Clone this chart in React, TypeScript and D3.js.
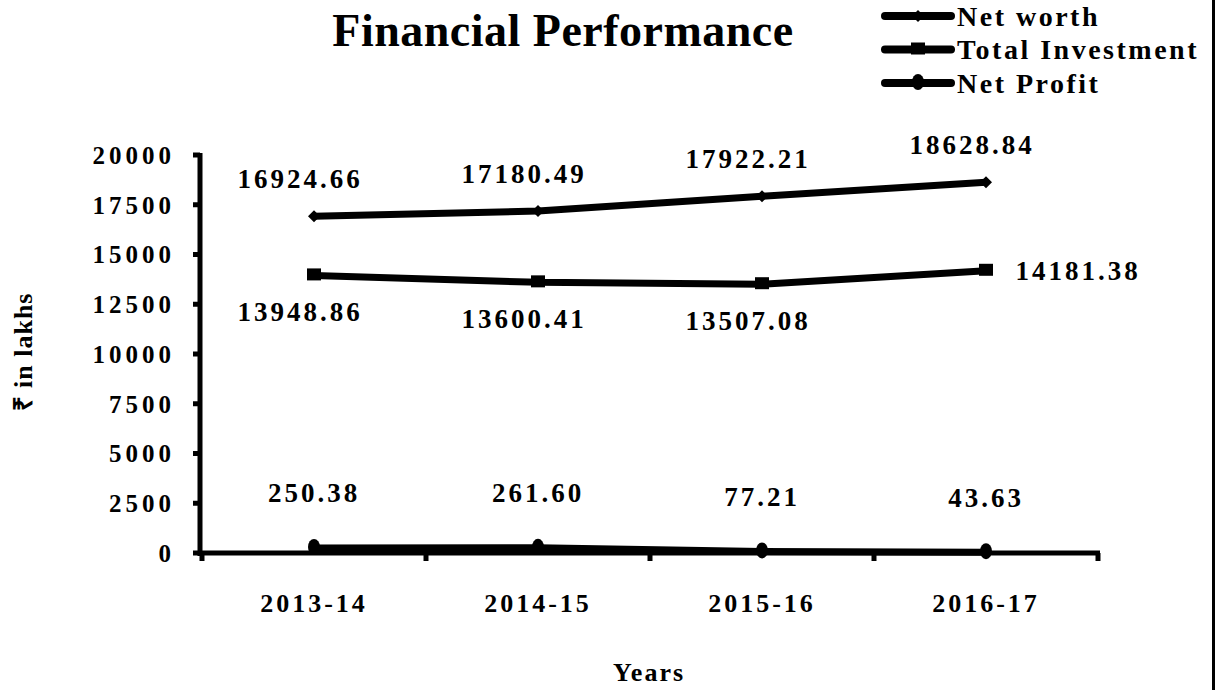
import * as d3 from 'd3';

const years = ['2013-14', '2014-15', '2015-16', '2016-17'];
const netWorth = [16924.66, 17180.49, 17922.21, 18628.84];
const totalInvestment = [13948.86, 13600.41, 13507.08, 14181.38];
const netProfit = [250.38, 261.6, 77.21, 43.63];
const yTicks = [0, 2500, 5000, 7500, 10000, 12500, 15000, 17500, 20000];

const W = 1215;
const H = 690;
const FONT = '"Liberation Serif", "Times New Roman", serif';

const series = [
  { name: 'Net worth', values: netWorth, marker: 'diamond', dx: -14, dy: -38 },
  { name: 'Total Investment', values: totalInvestment, marker: 'square', dx: -14, dy: 36 },
  { name: 'Net Profit', values: netProfit, marker: 'circle', dx: 0, dy: -55 },
];

const Marker = ({ type, x, y }: { type: string; x: number; y: number }) => {
  if (type === 'diamond') {
    return <path d={`M${x - 6},${y} L${x},${y - 6} L${x + 6},${y} L${x},${y + 6} Z`} fill="#000" />;
  }
  if (type === 'square') {
    return <rect x={x - 7} y={y - 7} width={14} height={12} fill="#000" />;
  }
  return <ellipse cx={x} cy={y - 1} rx={6} ry={8} fill="#000" />;
};

export default function App() {
  const x = d3.scaleBand().domain(years).range([202, 1098]);
  const y = d3.scaleLinear().domain([0, 20000]).range([553, 155]);
  const cx = (d: string) => (x(d) as number) + x.bandwidth() / 2;

  const line = d3
    .line<number>()
    .x((_, i) => cx(years[i]))
    .y((v) => y(v));

  const fmt = d3.format('.2f');

  return (
    <svg
      width={W}
      height={H}
      style={{ position: 'absolute', left: 0, top: 0, background: '#fff' }}
      fontFamily={FONT}
      fontWeight="bold"
    >
      <rect x={0} y={0} width={W} height={H} fill="#fff" />
      <line x1={W - 1.5} x2={W - 1.5} y1={0} y2={H} stroke="#000" strokeWidth={3} />

      {/* title */}
      <text x={563} y={46} textAnchor="middle" fontSize={46} letterSpacing={0.5}>
        Financial Performance
      </text>

      {/* legend */}
      {series.map((s, i) => {
        const ly = 16 + i * 33.5;
        return (
          <g key={s.name}>
            <line x1={885} x2={951} y1={ly} y2={ly} stroke="#000" strokeWidth={8} strokeLinecap="round" />
            <Marker type={s.marker} x={918} y={ly} />
            <text x={957} y={ly} dy="0.35em" fontSize={28} letterSpacing={2.5}>
              {s.name}
            </text>
          </g>
        );
      })}

      {/* y axis */}
      <line x1={200} x2={200} y1={153} y2={556} stroke="#000" strokeWidth={5} />
      {yTicks.map((t) => (
        <g key={t}>
          <line x1={193} x2={200} y1={y(t)} y2={y(t)} stroke="#000" strokeWidth={5} />
          <text x={175} y={y(t)} dy="0.35em" textAnchor="end" fontSize={25} letterSpacing={4}>
            {t}
          </text>
        </g>
      ))}

      {/* x axis */}
      <line x1={198} x2={1100} y1={553} y2={553} stroke="#000" strokeWidth={5} />
      {[...years.map((d) => x(d) as number), 1098].map((p, i) => (
        <line key={i} x1={p} x2={p} y1={553} y2={561} stroke="#000" strokeWidth={5} />
      ))}
      {years.map((d) => (
        <text key={d} x={cx(d)} y={603} dy="0.35em" textAnchor="middle" fontSize={26} letterSpacing={3}>
          {d}
        </text>
      ))}

      {/* axis titles */}
      <text x={649} y={672} dy="0.35em" textAnchor="middle" fontSize={26} letterSpacing={2}>
        Years
      </text>
      <text
        transform={`translate(23,352) rotate(-90)`}
        textAnchor="middle"
        dy="0.35em"
        fontSize={26}
        letterSpacing={1}
      >
        ₹ in lakhs
      </text>

      {/* series */}
      {series.map((s) => (
        <g key={s.name}>
          <path d={line(s.values) as string} fill="none" stroke="#000" strokeWidth={7} strokeLinejoin="round" />
          {s.values.map((v, i) => (
            <Marker key={i} type={s.marker} x={cx(years[i])} y={y(v)} />
          ))}
          {s.values.map((v, i) => {
            const isLastInv = s.name === 'Total Investment' && i === years.length - 1;
            const lx = cx(years[i]) + (isLastInv ? 92 : s.dx);
            const ly = y(v) + (isLastInv ? 0 : s.dy);
            return (
              <text key={i} x={lx} y={ly} dy="0.35em" textAnchor="middle" fontSize={27} letterSpacing={3}>
                {fmt(v)}
              </text>
            );
          })}
        </g>
      ))}
    </svg>
  );
}
